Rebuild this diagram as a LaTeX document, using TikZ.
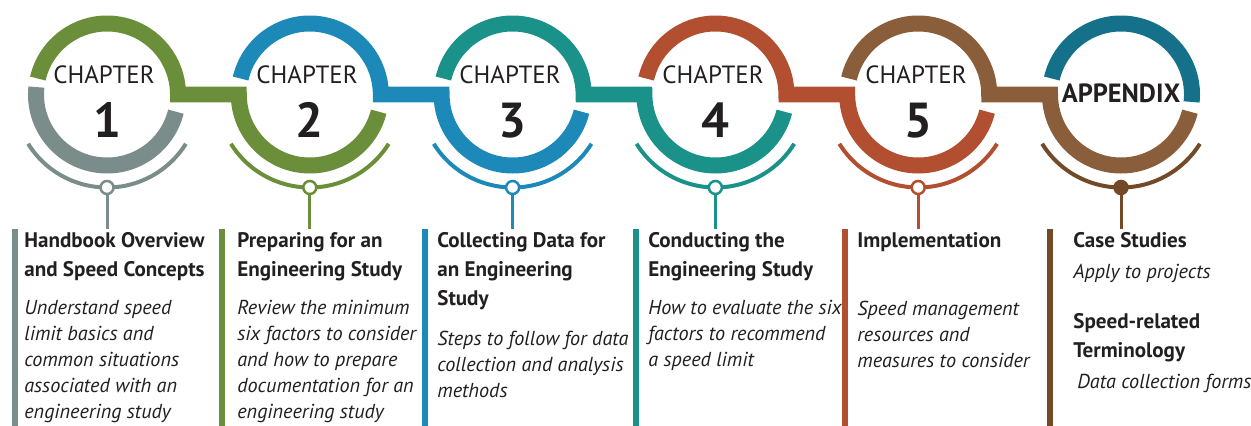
\documentclass[tikz,border=0pt]{standalone}
\usepackage{fontspec}
\setmainfont{PT Sans}
\definecolor{grayc}{HTML}{7B8D8A}
\definecolor{greenc}{HTML}{6B8E3A}
\definecolor{bluec}{HTML}{1D89B8}
\definecolor{tealc}{HTML}{1A9189}
\definecolor{rustc}{HTML}{B14F30}
\definecolor{brownc}{HTML}{8A5D3B}
\definecolor{dtealc}{HTML}{15718A}
\definecolor{dbrownc}{HTML}{734A28}
\definecolor{txt}{HTML}{231F20}
\begin{document}
\begin{tikzpicture}[x=0.02cm, y=0.02cm,
  ring/.style={line width=0.32cm},
  thinarc/.style={line width=0.08cm},
  dot/.style={draw, circle, line width=0.05cm, fill=white, minimum size=0.26cm, inner sep=0pt},
  stem/.style={line width=0.06cm},
  bar/.style={line width=0.12cm},
  chap/.style={font=\fontsize{14.2}{17}\selectfont, text=txt, anchor=base},
  num/.style={font=\fontsize{28}{30}\selectfont\bfseries, text=txt, anchor=base},
  head/.style={font=\fontsize{12}{16.4}\selectfont\bfseries, text=txt, align=left, anchor=base west, inner sep=0pt},
  desc/.style={font=\fontsize{11.5}{14.7}\selectfont\itshape, text=txt, align=left, anchor=base west, inner sep=0pt}]
  \useasboundingbox (0,0) rectangle (1251,-426);
  \coordinate (c1) at (107,-94.5);
  \coordinate (c2) at (309.8,-94.5);
  \coordinate (c3) at (512.6,-94.5);
  \coordinate (c4) at (715.4,-94.5);
  \coordinate (c5) at (918.2,-94.5);
  \coordinate (c6) at (1121,-94.5);
  \draw[ring, grayc] ([shift={(174:71)}]c1) arc[start angle=174, end angle=346, radius=71];
  \draw[ring, greenc] ([shift={(167:71)}]c1) arc[start angle=167, end angle=0, radius=71] -- ([shift={(180:71)}]c2) arc[start angle=180, end angle=346, radius=71];
  \draw[ring, bluec] ([shift={(167:71)}]c2) arc[start angle=167, end angle=0, radius=71] -- ([shift={(180:71)}]c3) arc[start angle=180, end angle=346, radius=71];
  \draw[ring, tealc] ([shift={(167:71)}]c3) arc[start angle=167, end angle=0, radius=71] -- ([shift={(180:71)}]c4) arc[start angle=180, end angle=346, radius=71];
  \draw[ring, rustc] ([shift={(167:71)}]c4) arc[start angle=167, end angle=0, radius=71] -- ([shift={(180:71)}]c5) arc[start angle=180, end angle=346, radius=71];
  \draw[ring, brownc] ([shift={(167:71)}]c5) arc[start angle=167, end angle=0, radius=71] -- ([shift={(180:71)}]c6) arc[start angle=180, end angle=346, radius=71];
  \draw[ring, dtealc] ([shift={(167:71)}]c6) arc[start angle=167, end angle=-6, radius=71];
  \draw[thinarc, grayc] ([shift={(212:93)}]c1) arc[start angle=212, end angle=328, radius=93];
  \draw[thinarc, greenc] ([shift={(212:93)}]c2) arc[start angle=212, end angle=328, radius=93];
  \draw[thinarc, bluec] ([shift={(212:93)}]c3) arc[start angle=212, end angle=328, radius=93];
  \draw[thinarc, tealc] ([shift={(212:93)}]c4) arc[start angle=212, end angle=328, radius=93];
  \draw[thinarc, rustc] ([shift={(212:93)}]c5) arc[start angle=212, end angle=328, radius=93];
  \draw[thinarc, dbrownc] ([shift={(212:93)}]c6) arc[start angle=212, end angle=328, radius=93];
  \node[dot, draw=grayc] (d1) at ([shift={(0,-93)}]c1) {};
  \node[dot, draw=greenc] (d2) at ([shift={(0,-93)}]c2) {};
  \node[dot, draw=bluec] (d3) at ([shift={(0,-93)}]c3) {};
  \node[dot, draw=tealc] (d4) at ([shift={(0,-93)}]c4) {};
  \node[dot, draw=rustc] (d5) at ([shift={(0,-93)}]c5) {};
  \node[dot, draw=dbrownc, fill=dbrownc] (d6) at ([shift={(0,-93)}]c6) {};
  \coordinate (s1) at (107,-229);
  \coordinate (s2) at (309.8,-229);
  \coordinate (s3) at (512.6,-229);
  \coordinate (s4) at (715.4,-229);
  \coordinate (s5) at (918.2,-229);
  \coordinate (s6) at (1121,-229);
  \draw[stem, grayc] (d1) -- (s1);
  \draw[stem, greenc] (d2) -- (s2);
  \draw[stem, bluec] (d3) -- (s3);
  \draw[stem, tealc] (d4) -- (s4);
  \draw[stem, rustc] (d5) -- (s5);
  \draw[stem, dbrownc] (d6) -- (s6);
  \draw[bar, grayc] (15,-229) -- (15,-426);
  \draw[bar, greenc] (222,-229) -- (222,-426);
  \draw[bar, bluec] (425,-229) -- (425,-426);
  \draw[bar, tealc] (636,-229) -- (636,-426);
  \draw[bar, rustc] (845,-229) -- (845,-426);
  \draw[bar, dbrownc] (1050,-229) -- (1050,-426);
  \node[chap] (ch1) at (104,-83) {CHAPTER};
  \node[chap] (ch2) at (307,-83) {CHAPTER};
  \node[chap] (ch3) at (510,-83) {CHAPTER};
  \node[chap] (ch4) at (713,-83) {CHAPTER};
  \node[chap] (ch5) at (916,-83) {CHAPTER};
  \node[chap, font=\fontsize{15}{17}\selectfont\bfseries] (ch6) at (1121,-102) {APPENDIX};
  \node[num] (n1) at (107,-137) {1};
  \node[num] (n2) at (309.8,-137) {2};
  \node[num] (n3) at (512.6,-137) {3};
  \node[num] (n4) at (715.4,-137) {4};
  \node[num] (n5) at (918.2,-137) {5};
  \node[head] (h1) at (24,-276) {Handbook Overview\\and Speed Concepts};
  \node[desc] (p1) at (24,-418) {Understand speed\\limit basics and\\common situations\\associated with an\\engineering study};
  \node[head] (h2) at (237,-276) {Preparing for an\\Engineering Study};
  \node[desc] (p2) at (237,-418) {Review the minimum\\six factors to consider\\and how to prepare\\documentation for an\\engineering study};
  \node[head] (h3) at (437,-305) {Collecting Data for\\an Engineering\\Study};
  \node[desc] (p3) at (437,-397) {Steps to follow for data\\collection and analysis\\methods};
  \node[head] (h4) at (648,-276) {Conducting the\\Engineering Study};
  \node[desc] (p4) at (648,-366) {How to evaluate the six\\factors to recommend\\a speed limit};
  \node[head] (h5) at (857,-247) {Implementation};
  \node[desc] (p5) at (857,-367) {Speed management\\resources and\\measures to consider};
  \node[head] (h6) at (1073,-247) {Case Studies};
  \node[desc] (p6) at (1073,-278) {Apply to projects};
  \node[head] (h7) at (1073,-357) {Speed-related\\Terminology};
  \node[desc] (p7) at (1077,-388) {Data collection forms};
\end{tikzpicture}
\end{document}
